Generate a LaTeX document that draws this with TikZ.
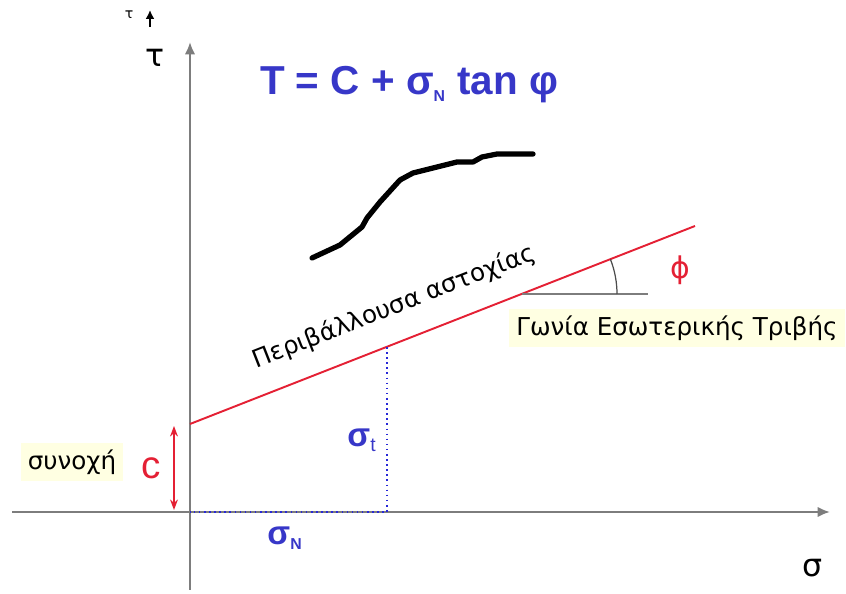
\documentclass[tikz,border=0pt]{standalone}
\usepackage{fontspec}
\setmainfont{DejaVu Sans}
\newfontfamily\eqfont{Liberation Sans}
\usetikzlibrary{arrows.meta, positioning, calc}
\definecolor{axisGray}{RGB}{125, 125, 125}
\definecolor{failRed}{RGB}{228, 32, 52}
\definecolor{eqBlue}{RGB}{55, 55, 200}
\definecolor{dotBlue}{RGB}{40, 40, 215}
\definecolor{noteYellow}{RGB}{255, 255, 226}

\begin{document}
\begin{tikzpicture}[x=0.02cm, y=0.02cm,
    axis/.style={draw=axisGray, line width=1.3pt, -{Latex[length=7pt,width=6pt]}},
    envelope/.style={draw=failRed, line width=1.1pt},
    guide/.style={draw=dotBlue, line width=0.9pt, dotted},
    note/.style={fill=noteYellow, inner sep=4pt},
    bluelbl/.style={text=eqBlue, font=\eqfont\fontsize{19}{21}\selectfont\bfseries}]
      \useasboundingbox (0,0) rectangle (846,594);

      % Axes
      \coordinate (sigBot) at (190,4);
      \coordinate (tauTop) at (190,552);
      \coordinate (sigLeft) at (12,82);
      \coordinate (sigRight) at (830,82);
      \draw[axis] (sigBot) -- (tauTop);
      \draw[axis] (sigLeft) -- (sigRight);
      \node (sigma) at (813,26) {\fontsize{18}{20}\selectfont σ};
      \node (tau) at (155,536) {\fontsize{18}{20}\selectfont τ};

      % Small tau mark
      \node (tausmall) at (129,579) {\fontsize{8}{9}\selectfont τ};
      \coordinate (tickA) at (150,567);
      \coordinate (tickB) at (150,584);
      \draw[line width=1.1pt, -{Latex[length=5pt,width=5pt]}] (tickA) -- (tickB);

      % Equation
      \node (eq) at (409,509) {\eqfont\fontsize{23}{26}\selectfont\bfseries\color{eqBlue}
        T = C + σ\textsubscript{\fontsize{9}{10}\selectfont N} tan φ};

      % Failure envelope
      \coordinate (cpt) at (190,170);
      \coordinate (envEnd) at (695,368);
      \coordinate (pt) at (387,247);
      \coordinate (foot) at (387,82);
      \coordinate (orig) at (190,82);
      \draw[envelope] (cpt) -- (envEnd);
      \node[rotate=21.4] (envlbl) at (394,287) {\fontsize{14}{16}\selectfont Περιβάλλουσα αστοχίας};

      % Stress components
      \draw[guide] (pt) -- (foot) -- (orig);
      \node[bluelbl] (sigt) at (362,154) {σ\textsubscript{\fontsize{11}{12}\selectfont\mdseries t}};
      \node[bluelbl] (sigN) at (285,56) {σ\textsubscript{\fontsize{9}{10}\selectfont N}};

      % Cohesion
      \coordinate (cTop) at (174,168);
      \coordinate (cBot) at (174,84);
      \draw[failRed, line width=0.9pt, {Stealth[length=6pt]}-{Stealth[length=6pt]}] (cTop) -- (cBot);
      \node[text=failRed] (clbl) at (151,126) {\eqfont\fontsize{22}{24}\selectfont c};
      \node[note] (coh) at (72,132) {\fontsize{14}{16}\selectfont συνοχή};

      % Friction angle
      \coordinate (vtx) at (522,300);
      \coordinate (hEnd) at (648,300);
      \draw[axisGray, line width=0.9pt] (vtx) -- (hEnd);
      \draw[black!70, line width=0.7pt] ($(vtx)+(95,0)$) arc[start angle=0, end angle=21.4, radius=1.9cm];
      \node[text=failRed] (phi) at (680,324) {\fontsize{17}{19}\selectfont ϕ};
      \node[note] (angle) at (677,266) {\fontsize{14}{16}\selectfont Γωνία Εσωτερικής Τριβής};

      % Test curve
      \draw[line width=3pt, line cap=round, line join=round]
        (312,336) -- (340,349) -- (362,367) -- (367,376) -- (380,392) -- (400,414)
        -- (413,421) -- (437,427) -- (457,432) -- (473,432) -- (482,437) -- (497,440) -- (533,440);
    \end{tikzpicture}
\end{document}
